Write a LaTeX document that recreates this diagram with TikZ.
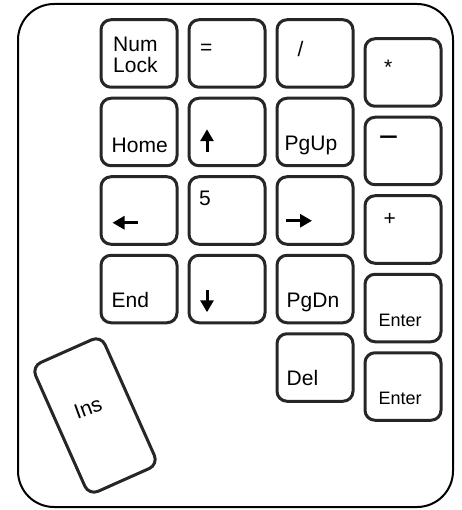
\documentclass[tikz,border=0pt]{standalone}
\usepackage{fontspec}
\setmainfont{Liberation Sans}
\usepackage{tikz}
\usetikzlibrary{arrows.meta, positioning}

\begin{document}
\begin{tikzpicture}[
    x=1pt, y=-1pt,
    key/.style={rectangle, draw=black!85, line width=3pt, rounded corners=10pt, minimum width=76pt, minimum height=67.5pt, inner sep=0pt},
    keytext/.style={inner sep=0pt, anchor=base west, font=\fontsize{21pt}{21pt}\selectfont},
    entertext/.style={keytext, font=\fontsize{18pt}{18pt}\selectfont},
    keyarrow/.style={line width=3pt, -{Triangle[length=12pt, width=13pt]}},
    frame/.style={draw, line width=2pt, rounded corners=36pt},
    node distance=8pt and 9pt
]
\useasboundingbox (0,0) rectangle (461,510);
\draw[frame] (18,4) rectangle (453,507);

% main block
\node[key] (numlock) at (139,53.5) {};
\node[key, right=of numlock] (equal) {};
\node[key, right=of equal] (slash) {};
\node[key, below=of numlock] (home) {};
\node[key, below=of equal] (up) {};
\node[key, below=of slash] (pgup) {};
\node[key, below=of home] (left) {};
\node[key, below=of up] (five) {};
\node[key, below=of pgup] (right) {};
\node[key, below=of left] (end) {};
\node[key, below=of five] (down) {};
\node[key, below=of right] (pgdn) {};
\node[key, below=of pgdn] (del) {};

% right column
\node[key] (star) at (403,72.5) {};
\node[key, below=of star] (minus) {};
\node[key, below=of minus] (plus) {};
\node[key, below=of plus] (enter) {};
\node[key, below=of enter] (enterb) {};

% loose key
\node[key, minimum width=76pt, minimum height=141pt, rotate=24] (ins) at (95,415.5) {};

% labels
\node[keytext, align=left] (numlocktext) at ([xshift=13.5pt, yshift=-54pt]numlock.north west) {Num\\Lock};
\node[keytext] (equaltext) at ([xshift=12.5pt, yshift=-36pt]equal.north west) {=};
\node[keytext] (slashtext) at ([xshift=22pt, yshift=-38.5pt]slash.north west) {/};
\node[keytext] (startext) at ([xshift=20.5pt, yshift=-37pt]star.north west) {*};
\node[keytext] (hometext) at ([xshift=12pt, yshift=15pt]home.south west) {Home};
\node[keytext] (pguptext) at ([xshift=9pt, yshift=17pt]pgup.south west) {PgUp};
\node[keytext, font=\fontsize{34pt}{34pt}\selectfont] (minustext) at ([xshift=15pt, yshift=-32.5pt]minus.north west) {−};
\node[keytext] (fivetext) at ([xshift=11.5pt, yshift=-30pt]five.north west) {5};
\node[keytext] (plustext) at ([xshift=20pt, yshift=-31pt]plus.north west) {+};
\node[keytext] (endtext) at ([xshift=12pt, yshift=17pt]end.south west) {End};
\node[keytext] (pgdntext) at ([xshift=11pt, yshift=17pt]pgdn.south west) {PgDn};
\node[entertext] (entertext) at ([xshift=15pt, yshift=17pt]enter.south west) {Enter};
\node[keytext] (deltext) at ([xshift=11pt, yshift=17pt]del.south west) {Del};
\node[entertext] (enterbtext) at ([xshift=15pt, yshift=17pt]enterb.south west) {Enter};
\node[keytext, anchor=center, rotate=20] (instext) at ([xshift=-7pt, yshift=7pt]ins.center) {Ins};

% arrow glyphs
\draw[keyarrow] ([xshift=19.5pt, yshift=15pt]up.south west) -- ++(0pt,23pt);
\draw[keyarrow] ([xshift=38pt, yshift=23pt]left.south west) -- ++(-25pt,0pt);
\draw[keyarrow] ([xshift=10.5pt, yshift=25pt]right.south west) -- ++(26pt,0pt);
\draw[keyarrow] ([xshift=19.5pt, yshift=34pt]down.south west) -- ++(0pt,-22pt);
\end{tikzpicture}
\end{document}
